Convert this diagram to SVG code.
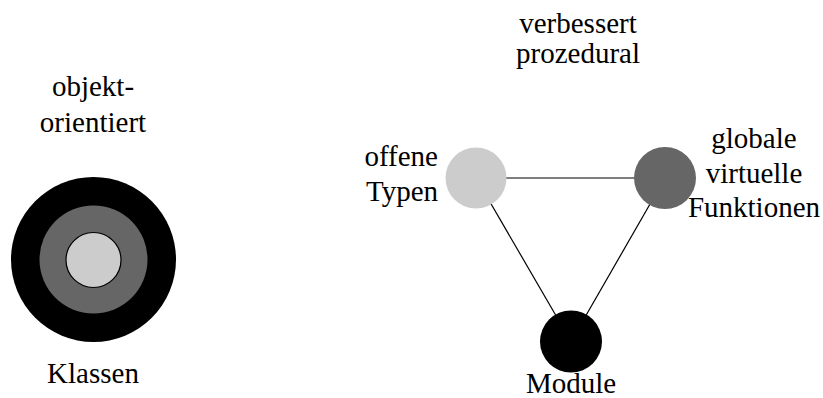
<svg xmlns="http://www.w3.org/2000/svg" width="823" height="398" viewBox="0 0 823 398">
  <rect width="823" height="398" fill="#fff"/>

  <!-- left: layered object-oriented view -->
  <g id="oo">
    <circle cx="93.5" cy="259.5" r="82.5" fill="#000"/>
    <circle cx="93.5" cy="259.5" r="54" fill="#666"/>
    <circle cx="93.5" cy="260" r="27.5" fill="#ccc" stroke="#000" stroke-width="1.2"/>
    <text x="93" y="96" font-size="29" font-family="Liberation Serif" text-anchor="middle">objekt-</text>
    <text x="93" y="132" font-size="29" font-family="Liberation Serif" text-anchor="middle">orientiert</text>
    <text x="93" y="383" font-size="29" font-family="Liberation Serif" text-anchor="middle">Klassen</text>
  </g>

  <!-- right: improved procedural view -->
  <g id="title-proc">
    <text x="578" y="33" font-size="29" font-family="Liberation Serif" text-anchor="middle">verbessert</text>
    <text x="578" y="63" font-size="29" font-family="Liberation Serif" text-anchor="middle">prozedural</text>
  </g>

  <g id="connectors" stroke="#000" stroke-width="1.2" fill="none">
    <line x1="476" y1="178" x2="665" y2="178"/>
    <line x1="476" y1="178" x2="571" y2="341.5"/>
    <line x1="665" y1="178" x2="571" y2="341.5"/>
  </g>

  <g id="offene-typen">
    <circle cx="476" cy="178" r="30.5" fill="#ccc"/>
    <text x="438" y="166" font-size="29" font-family="Liberation Serif" text-anchor="end">offene</text>
    <text x="438" y="201" font-size="29" font-family="Liberation Serif" text-anchor="end">Typen</text>
  </g>

  <g id="globale-funktionen">
    <circle cx="665" cy="178" r="31" fill="#666"/>
    <text x="754" y="148" font-size="29" font-family="Liberation Serif" text-anchor="middle">globale</text>
    <text x="754" y="183" font-size="29" font-family="Liberation Serif" text-anchor="middle">virtuelle</text>
    <text x="754" y="217" font-size="29" font-family="Liberation Serif" text-anchor="middle">Funktionen</text>
  </g>

  <g id="module">
    <circle cx="571" cy="341.5" r="31" fill="#000"/>
    <text x="571" y="393" font-size="29" font-family="Liberation Serif" text-anchor="middle">Module</text>
  </g>
</svg>
